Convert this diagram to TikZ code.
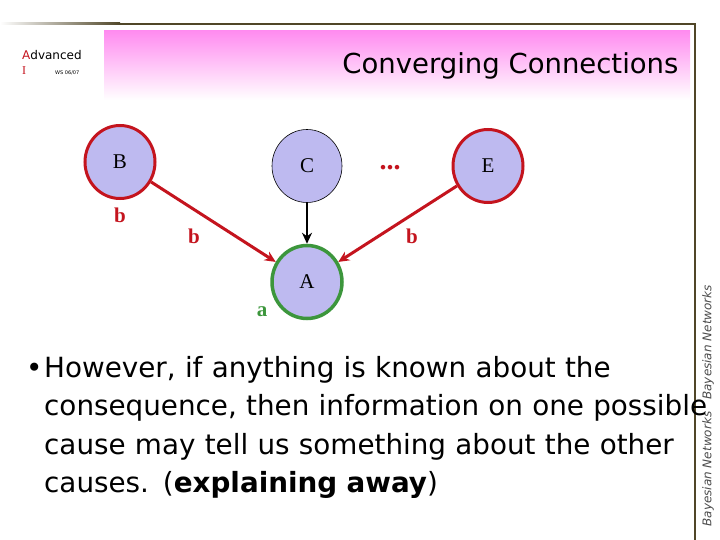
\documentclass[tikz,border=0pt]{standalone}
\usepackage{fontspec}
\setmainfont{DejaVu Sans}
\newfontfamily\serifnode{Liberation Serif}
\usetikzlibrary{shapes.geometric, arrows.meta, positioning}
\definecolor{lav}{RGB}{190,186,240}
\definecolor{dred}{RGB}{196,20,30}
\definecolor{dgreen}{RGB}{60,150,60}
\definecolor{pinkhead}{RGB}{255,140,240}
\definecolor{frame}{RGB}{80,70,40}
\begin{document}
\begin{tikzpicture}[x=1pt, y=-1pt,
    var/.style={ellipse, draw, fill=lav, minimum width=70pt, minimum height=73pt, font=\serifnode\fontsize{21}{21}\selectfont, inner sep=0pt},
    lab/.style={font=\serifnode\bfseries\fontsize{21}{21}\selectfont},
    arrow/.style={-{Stealth[length=11pt, width=10pt]}, line width=3pt}
]
\useasboundingbox (0,0) rectangle (720,540);

% Frame
\shade[left color=white, right color=frame] (0,23) rectangle (120,25);
\fill[frame] (120,23) rectangle (696,25);
\fill[frame] (694,23) rectangle (696,540);

% Header
\shade[top color=pinkhead, bottom color=white] (104,31) rectangle (690,100);
\node[anchor=east, font=\fontsize{27.5}{27.5}\selectfont] (title) at (682,66) {Converging Connections};
\node[anchor=west, font=\fontsize{12}{12}\selectfont, inner sep=0pt] (adv) at (22,55) {\textcolor{dred}{A}dvanced};
\node[anchor=west, font=\serifnode\fontsize{12}{12}\selectfont, text=dred, inner sep=0pt] (one) at (22,71) {I};
\node[anchor=west, font=\fontsize{5}{5}\selectfont, inner sep=0pt] (ws) at (55,73) {WS 06/07};
\node[rotate=90, anchor=west, font=\itshape\fontsize{12}{12}\selectfont, text=black!70] (side) at (708,530) {Bayesian Networks\quad Bayesian Networks};

% Variables
\node[var, draw=dred, line width=3pt] (B) at (120,162) {B};
\node[var, line width=0.6pt] (C) at (307,166) {C};
\node[var, draw=dred, line width=3pt] (E) at (488,166) {E};
\node[var, draw=dgreen, line width=3.5pt] (A) at (307,282) {A};
\node[lab, text=dred, font=\serifnode\bfseries\fontsize{28}{28}\selectfont] (dots) at (390,168) {...};

% Labels
\node[lab, text=dred] (bB) at (120,215) {b};
\node[lab, text=dred] (bBA) at (194,236) {b};
\node[lab, text=dred] (bEA) at (412,236) {b};
\node[lab, text=dgreen] (aA) at (262,312) {a};

% Arrows
\draw[arrow, dred] (B) -- (A);
\draw[arrow, black, line width=2.4pt] (C) -- (A);
\draw[arrow, dred] (E) -- (A);

% Text
\node[anchor=north west, text width=690pt, align=left, font=\fontsize{27.8}{38.5}\selectfont, inner sep=0pt] (txt) at (26,356)
{\makebox[18pt][l]{\textbullet}However, if anything is known about the\\
\hspace*{18pt}consequence, then information on one possible\\
\hspace*{18pt}cause may tell us something about the other\\
\hspace*{18pt}causes. (\textbf{explaining away})};
\end{tikzpicture}
\end{document}
